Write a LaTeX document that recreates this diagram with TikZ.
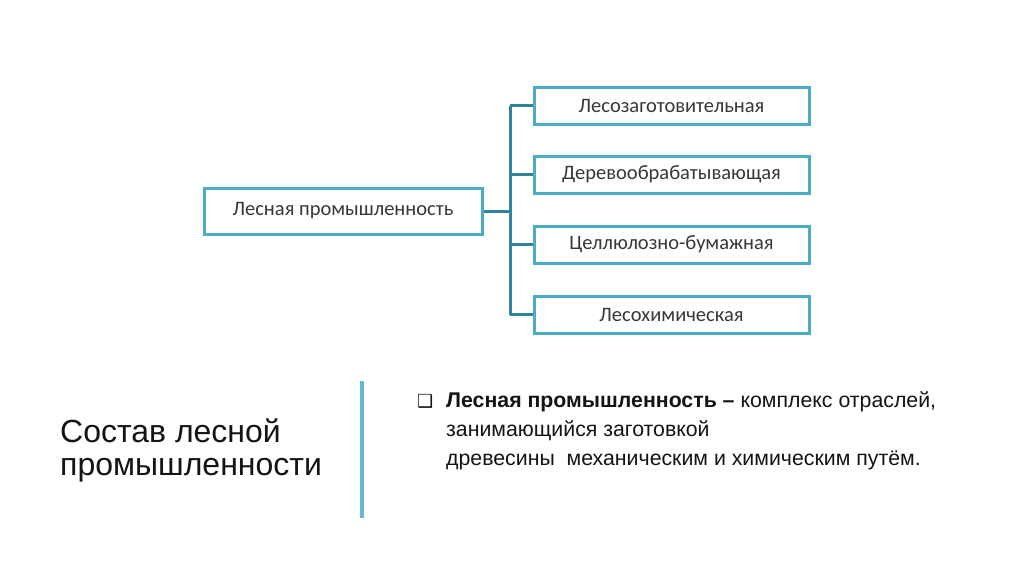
\documentclass[tikz,border=0pt]{standalone}
\usepackage{fontspec}
\setmainfont{Liberation Sans}
\newfontfamily\boxfont{Carlito}
\newfontfamily\symfont{DejaVu Sans}
\definecolor{boxline}{RGB}{75,172,198}
\definecolor{connline}{RGB}{49,132,155}
\definecolor{sepline}{RGB}{98,184,214}
\definecolor{boxtext}{RGB}{55,55,55}
\definecolor{maintext}{RGB}{20,20,20}
\begin{document}
\begin{tikzpicture}[x=1pt,y=-1pt,
  boxstyle/.style={draw=boxline, line width=3pt, fill=white, inner sep=0pt,
    font=\boxfont\fontsize{20.5}{24}\selectfont, text=boxtext},
  mainbox/.style={boxstyle, minimum width=278pt, minimum height=46pt},
  subbox/.style={boxstyle, minimum width=275pt, minimum height=37pt},
  conn/.style={draw=connline, line width=3pt},
  titletext/.style={font=\fontsize{32}{33}\selectfont, text=maintext, anchor=base west, inner sep=0pt},
  bodytext/.style={font=\fontsize{21.3}{29}\selectfont, text=maintext, anchor=base west, inner sep=0pt}
]
\useasboundingbox[fill=white] (0,0) rectangle (1024,574);
\node[mainbox] (main) at (343,211) {Лесная промышленность};
\node[subbox] (b1) at (671.5,105.5) {Лесозаготовительная};
\node[subbox] (b2) at (671.5,174.5) {Деревообрабатывающая};
\node[subbox] (b3) at (671.5,244.5) {Целлюлозно-бумажная};
\node[subbox] (b4) at (671.5,314.5) {Лесохимическая};
\coordinate (bus) at (510,211);
\draw[conn] (main.east) -- (bus);
\draw[conn] (bus |- b1) -- (bus |- b4);
\draw[conn] (bus |- b1) -- (b1.west);
\draw[conn] (bus |- b2) -- (b2.west);
\draw[conn] (bus |- b3) -- (b3.west);
\draw[conn] (bus |- b4) -- (b4.west);
\node[titletext] (title1) at (60,442) {Состав лесной};
\node[titletext] (title2) at (60,475) {промышленности};
\coordinate (septop) at (362,381);
\coordinate (sepbot) at (362,518);
\draw[sepline, line width=4pt] (septop) -- (sepbot);
\node[bodytext, font=\symfont\fontsize{18}{29}\selectfont] (bullet) at (417,407) {❑};
\node[bodytext] (line1) at (446,407) {\textbf{Лесная промышленность –} комплекс отраслей,};
\node[bodytext] (line2) at (446,436) {занимающийся заготовкой};
\node[bodytext] (line3) at (446,465) {древесины\ \ механическим и химическим путём.};
\end{tikzpicture}
\end{document}
